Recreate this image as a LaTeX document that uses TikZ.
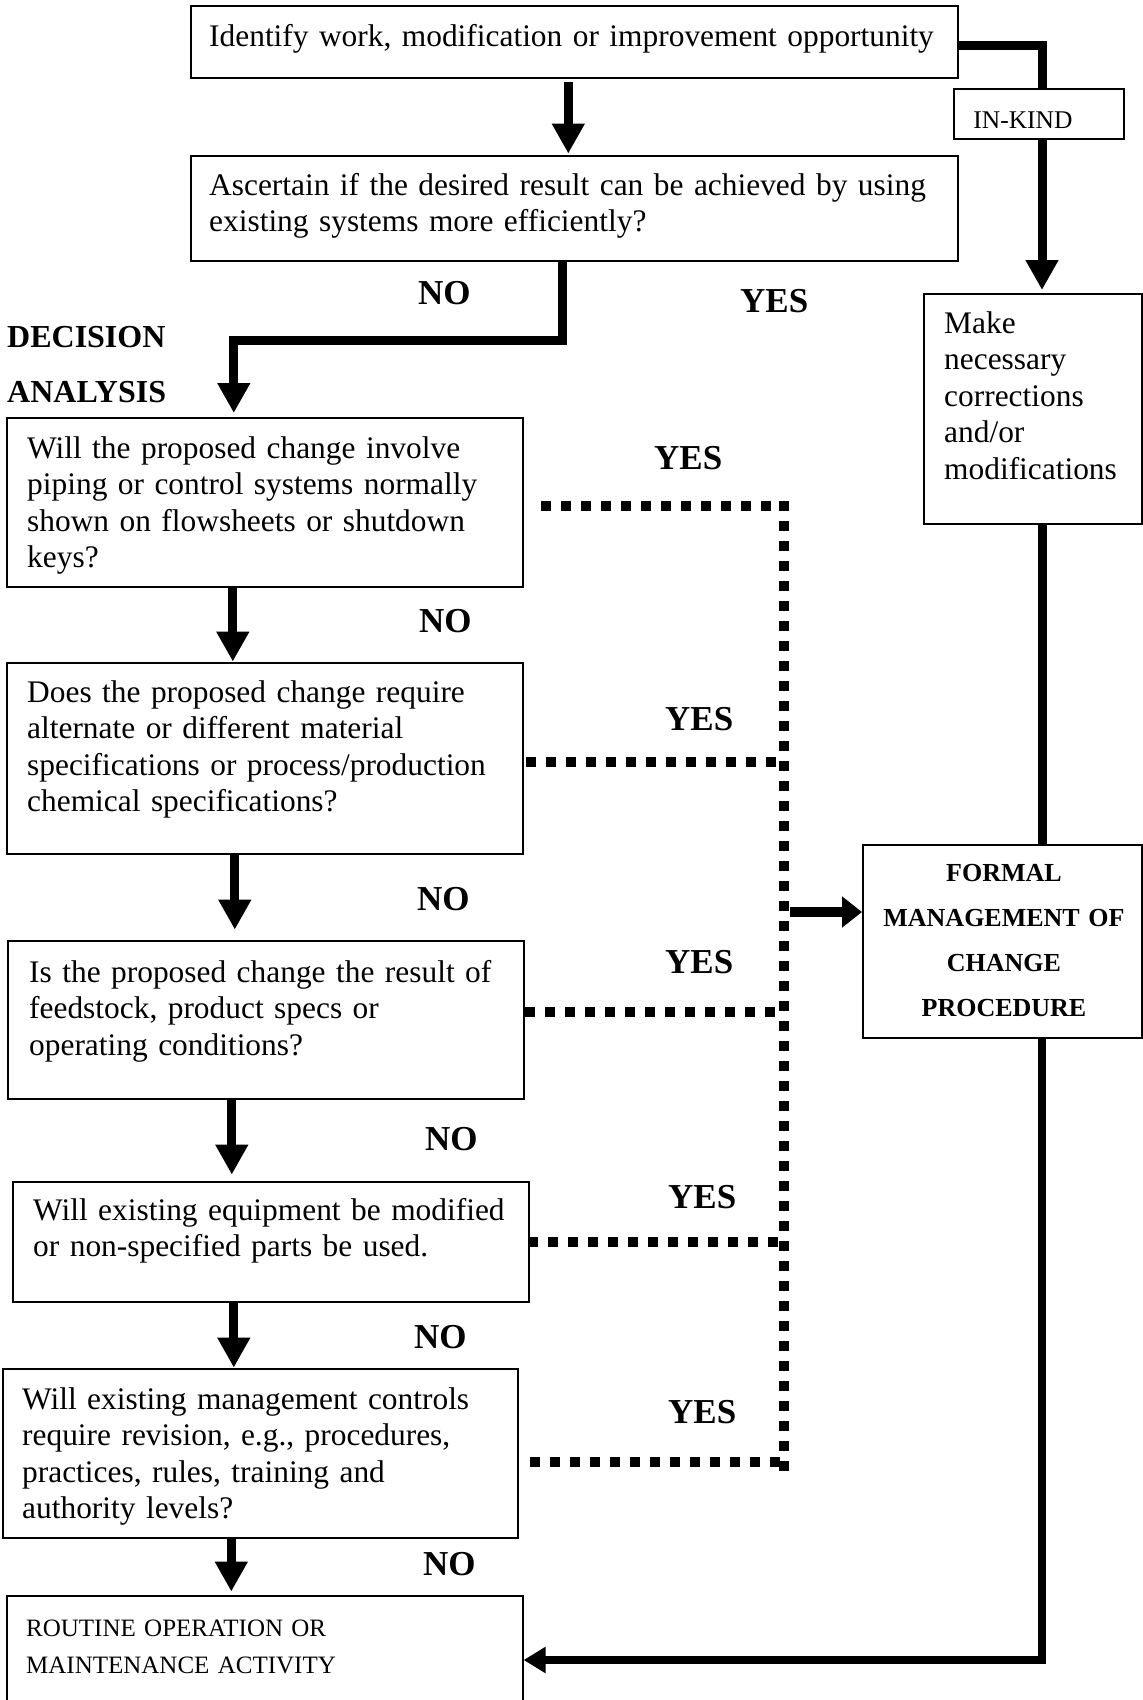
\documentclass[tikz,border=0pt]{standalone}
\usepackage{fontspec}
\setmainfont{Liberation Serif}
\usetikzlibrary{arrows.meta,calc}
\begin{document}
\begin{tikzpicture}[x=1pt,y=-1pt,
  box/.style={draw, line width=1.6pt, anchor=north west, inner sep=0pt},
  txt/.style={anchor=base west, inner sep=0pt, align=left, text width=#1,
    font=\fontsize{31.4}{36.5}\selectfont},
  txt/.default=500pt,
  lbl/.style={anchor=base west, inner sep=0pt, font=\fontsize{35}{40}\selectfont\bfseries},
  heavy/.style={line width=9pt},
  harrow/.style={line width=9pt, -{Triangle[width=31pt,length=30pt]}},
  dotline/.style={line width=10pt, dash pattern=on 10pt off 10pt},
]
\useasboundingbox (0,0) rectangle (1143,1700);
\fill[white] (0,0) rectangle (1143,1700);

% boxes
\node[box, minimum width=767pt, minimum height=72pt]  (b1) at (190,5) {};
\node[box, minimum width=767pt, minimum height=105pt] (b2) at (190,155) {};
\node[box, minimum width=170pt, minimum height=50pt]  (ik) at (953,88) {};
\node[box, minimum width=218pt, minimum height=230pt] (mk) at (923,293) {};
\node[box, minimum width=279pt, minimum height=193pt] (fm) at (862,844) {};
\node[box, minimum width=516pt, minimum height=169pt] (b3) at (6,417) {};
\node[box, minimum width=516pt, minimum height=191pt] (b4) at (6,662) {};
\node[box, minimum width=516pt, minimum height=158pt] (b5) at (7,940) {};
\node[box, minimum width=516pt, minimum height=120pt] (b6) at (12,1181) {};
\node[box, minimum width=515pt, minimum height=169pt] (b7) at (2,1368) {};
\node[box, minimum width=516pt, minimum height=125pt] (b8) at (6,1595) {};

% texts
\node[txt=760pt] (t1) at (209,46) {Identify work, modification or improvement opportunity};
\node[txt=760pt] (t2) at (209,195) {Ascertain if the desired result can be achieved by using\\existing systems more efficiently?};
\node[txt=200pt] (tmk) at (944,333) {Make\\necessary\\corrections\\and/or\\modifications};
\node[txt] (t3) at (27,458) {Will the proposed change involve\\piping or control systems normally\\shown on flowsheets or shutdown\\keys?};
\node[txt] (t4) at (27,702) {Does the proposed change require\\alternate or different material\\specifications or process/production\\chemical specifications?};
\node[txt] (t5) at (29,982) {Is the proposed change the result of\\feedstock, product specs or\\operating conditions?};
\node[txt] (t6) at (33,1220) {Will existing equipment be modified\\or non-specified parts be used.};
\node[txt] (t7) at (22,1409) {Will existing management controls\\require revision, e.g., procedures,\\practices, rules, training and\\authority levels?};
\node[anchor=base west, inner sep=0pt, align=left, text width=480pt,
  font=\fontsize{25}{37}\selectfont] (t8) at (26,1636) {ROUTINE OPERATION OR\\MAINTENANCE ACTIVITY};
\node[anchor=base, inner sep=0pt, align=center, text width=279pt,
  font=\fontsize{26}{45.3}\selectfont\bfseries] (tfm) at (1004,881) {FORMAL\\MANAGEMENT OF\\CHANGE\\PROCEDURE};
\node[anchor=base, inner sep=0pt, font=\fontsize{25.5}{30}\selectfont] (tik) at (1023,128) {IN-KIND};

% labels
\node[lbl] (no1) at (418,304) {NO};
\node[lbl] (yes1) at (740,312) {YES};
\node[anchor=base west, inner sep=0pt, font=\fontsize{32}{36}\selectfont\bfseries] (dec) at (7,347) {DECISION};
\node[anchor=base west, inner sep=0pt, font=\fontsize{32}{36}\selectfont\bfseries] (ana) at (7,402) {ANALYSIS};
\node[lbl] (yes3) at (654,469) {YES};
\node[lbl] (no3) at (419,632) {NO};
\node[lbl] (yes4) at (665,730) {YES};
\node[lbl] (no4) at (417,910) {NO};
\node[lbl] (yes5) at (665,973) {YES};
\node[lbl] (no5) at (425,1150) {NO};
\node[lbl] (yes6) at (668,1208) {YES};
\node[lbl] (no6) at (414,1348) {NO};
\node[lbl] (yes7) at (668,1423) {YES};
\node[lbl] (no7) at (423,1575) {NO};

% helper coordinates
\coordinate (spine) at (1042,0);
\coordinate (dv) at (784,0);
\coordinate (rt) at (1042,1660);
\coordinate (vm) at (790,912);
\coordinate (y3) at (541,506);
\coordinate (y4) at (526,762);
\coordinate (y5) at (525,1012);
\coordinate (y6) at (528,1242);
\coordinate (y7) at (530,1462);
\coordinate (dtop) at (784,501);
\coordinate (dbot) at (784,1471);

% main vertical flow
\draw[harrow] ($(b1.south)+(-6,3)$) -- ++(0,72);
\draw[harrow] ($(b2.south)+(-12,0)$) -- ++(0,79) -| ($(b3.north)+(-31,-4)$);
\draw[harrow] ($(b3.south)+(-32,0)$) -- ++(0,74);
\draw[harrow] ($(b4.south)+(-30,0)$) -- ++(0,75);
\draw[harrow] ($(b5.south)+(-34,0)$) -- ++(0,75);
\draw[harrow] ($(b6.south)+(-37,0)$) -- ++(0,65);
\draw[harrow] ($(b7.south)+(-29,0)$) -- ++(0,53);

% right spine
\draw[heavy] ($(b1.east)+(0,4)$) -| (spine |- ik.north);
\draw[harrow] (spine |- ik.south) -- ($(spine |- mk.north)+(0,-3)$);
\draw[heavy] (spine |- mk.south) -- (spine |- fm.north);
\draw[line width=8pt, -{Triangle[width=25pt,length=22pt]}] (spine |- fm.south) |- (b8.east |- rt);

% dotted YES connectors
\draw[dotline] (dtop) -- (dbot);
\draw[dotline] (y3) -- (y3 -| dv);
\draw[dotline] (y4) -- (y4 -| dv);
\draw[dotline] (y5) -- (y5 -| dv);
\draw[dotline] (y6) -- (y6 -| dv);
\draw[dotline] (y7) -- (y7 -| dv);
\draw[line width=10pt, -{Triangle[width=30pt,length=20pt]}] (vm) -- (vm -| fm.west);
\end{tikzpicture}
\end{document}
